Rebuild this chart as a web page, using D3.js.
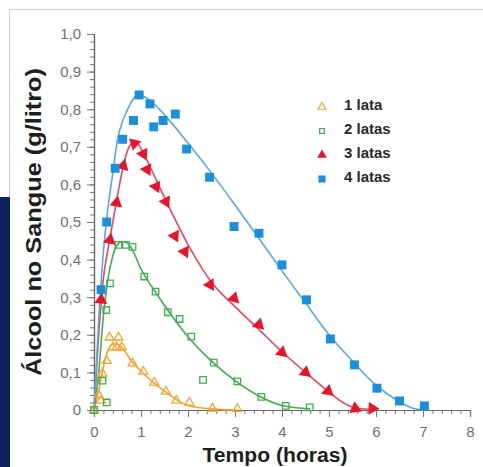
<!DOCTYPE html>
<html>
<head>
<meta charset="utf-8">
<script src="https://cdn.jsdelivr.net/npm/d3@7"></script>
<style>
  body { margin: 0; background: #fff; }
  text { font-family: "Liberation Sans", Arial, sans-serif; }
</style>
</head>
<body>
<script>
// data: points (t in hours, v in g/litro) and the fitted curves
var series = ['1 lata', '2 latas', '3 latas', '4 latas'];
var yTicks = [0, 0.1, 0.2, 0.3, 0.4, 0.5, 0.6, 0.7, 0.8, 0.9, 1.0];
var xTicks = [0, 1, 2, 3, 4, 5, 6, 7, 8];

var t1 = [0, 0.1, 0.15, 0.18, 0.27, 0.33, 0.40, 0.48, 0.52, 0.59, 0.82, 1.05, 1.28, 1.53, 1.75, 2.03, 2.52, 3.05];
var v1 = [0, 0.04, 0.025, 0.097, 0.131, 0.193, 0.167, 0.167, 0.193, 0.167, 0.124, 0.102, 0.073, 0.049, 0.025, 0.02, 0.004, 0.003];
var t2 = [0, 0.18, 0.27, 0.26, 0.34, 0.52, 0.68, 0.82, 1.07, 1.31, 1.57, 1.82, 2.07, 2.32, 2.55, 3.05, 3.56, 4.08, 4.59];
var v2 = [0, 0.078, 0.02, 0.266, 0.337, 0.439, 0.439, 0.434, 0.355, 0.315, 0.26, 0.242, 0.195, 0.08, 0.126, 0.076, 0.035, 0.011, 0.007];
var t3 = [0.15, 0.34, 0.48, 0.62, 0.86, 1.05, 1.13, 1.32, 1.53, 1.72, 1.93, 2.47, 2.98, 3.51, 4.0, 4.5, 4.98, 5.56, 5.92];
var v3 = [0.293, 0.452, 0.551, 0.649, 0.709, 0.681, 0.64, 0.594, 0.554, 0.463, 0.421, 0.333, 0.297, 0.227, 0.153, 0.1, 0.05, 0.004, 0.004];
var t4 = [0.15, 0.27, 0.45, 0.61, 0.84, 0.96, 1.19, 1.27, 1.47, 1.73, 1.97, 2.46, 2.98, 3.51, 4.0, 4.52, 5.03, 5.54, 6.02, 6.5, 7.03];
var v4 = [0.32, 0.50, 0.643, 0.72, 0.77, 0.838, 0.814, 0.753, 0.77, 0.787, 0.694, 0.619, 0.488, 0.47, 0.386, 0.293, 0.189, 0.12, 0.058, 0.024, 0.011];

var ct1 = [0, 0.1, 0.2, 0.3, 0.4, 0.5, 0.6, 0.8, 1.0, 1.25, 1.5, 1.75, 2.0, 2.5, 3.05];
var cv1 = [0, 0.05, 0.115, 0.16, 0.175, 0.175, 0.165, 0.13, 0.103, 0.075, 0.05, 0.028, 0.012, 0.003, 0];
var ct2 = [0, 0.1, 0.2, 0.3, 0.4, 0.5, 0.6, 0.7, 0.8, 1.0, 1.3, 1.6, 2.0, 2.5, 3.0, 3.5, 4.0, 4.6];
var cv2 = [0, 0.1, 0.25, 0.35, 0.41, 0.44, 0.448, 0.445, 0.43, 0.375, 0.315, 0.26, 0.195, 0.13, 0.078, 0.038, 0.012, 0.003];
var ct3 = [0, 0.1, 0.2, 0.3, 0.4, 0.5, 0.6, 0.7, 0.8, 0.9, 1.0, 1.2, 1.5, 2.0, 2.5, 3.0, 3.5, 4.0, 4.5, 5.0, 5.3, 5.6, 5.92];
var cv3 = [0, 0.2, 0.35, 0.43, 0.5, 0.57, 0.635, 0.685, 0.708, 0.712, 0.695, 0.645, 0.565, 0.44, 0.34, 0.275, 0.215, 0.155, 0.1, 0.048, 0.02, 0.004, 0.002];
var ct4 = [0, 0.1, 0.2, 0.3, 0.4, 0.5, 0.6, 0.7, 0.8, 0.9, 1.0, 1.2, 1.5, 2.0, 2.5, 3.0, 3.5, 4.0, 4.5, 5.0, 5.5, 6.0, 6.5, 6.8, 7.05];
var cv4 = [0, 0.24, 0.42, 0.54, 0.63, 0.72, 0.765, 0.795, 0.82, 0.835, 0.836, 0.822, 0.785, 0.71, 0.63, 0.545, 0.458, 0.37, 0.285, 0.2, 0.13, 0.066, 0.022, 0.004, 0];

var colors = ['#f5a431', '#3fae4f', '#e8132e', '#1b8fdc'];
var lineColors = ['#f5a431', '#3fae4f', '#e8475c', '#58a9e2'];

var width = 483, height = 467;
var x = d3.scaleLinear().domain([0, 8]).range([94, 470]);
var y = d3.scaleLinear().domain([0, 1]).range([410, 34]);

var svg = d3.select('body').append('svg').attr('width', width).attr('height', height);

// frame
svg.append('path').attr('d', 'M9.5,197V9.5H483').attr('fill', 'none').attr('stroke', '#cfcfcf');
svg.append('rect').attr('x', 0).attr('y', 197).attr('width', 10).attr('height', height - 197).attr('fill', '#0c2161');

// axes
var fmt = function(d) { return d === 0 ? '0' : d.toFixed(1).replace('.', ','); };
var yMinor = svg.append('g').attr('transform', 'translate(94,0)')
    .call(d3.axisLeft(y).tickValues(d3.range(0, 1.001, 0.02)).tickSize(4).tickFormat(''));
var yAxis = svg.append('g').attr('transform', 'translate(94,0)')
    .call(d3.axisLeft(y).tickValues(yTicks).tickSize(7).tickPadding(6).tickFormat(fmt));
var xMinor = svg.append('g').attr('transform', 'translate(0,410)')
    .call(d3.axisBottom(x).tickValues(d3.range(0, 8.001, 0.2)).tickSize(4).tickFormat(''));
var xAxis = svg.append('g').attr('transform', 'translate(0,410)')
    .call(d3.axisBottom(x).tickValues(xTicks).tickSize(7).tickPadding(9).tickFormat(d3.format('d')));

svg.selectAll('.domain').attr('stroke', '#666').attr('stroke-width', 1.2);
svg.selectAll('.tick line').attr('stroke', '#777');
svg.selectAll('.tick text').attr('fill', '#707070').style('font-size', '15px');

svg.append('text').attr('transform', 'translate(41,222) rotate(-90)')
    .attr('text-anchor', 'middle').attr('textLength', 308).attr('lengthAdjust', 'spacingAndGlyphs')
    .style('font-size', '22px').style('font-weight', 'bold').attr('fill', '#1e1e1e')
    .text('Álcool no Sangue (g/litro)');
svg.append('text').attr('x', 275).attr('y', 462)
    .attr('text-anchor', 'middle').attr('textLength', 145).attr('lengthAdjust', 'spacingAndGlyphs')
    .style('font-size', '20px').style('font-weight', 'bold').attr('fill', '#1e1e1e')
    .text('Tempo (horas)');

// fitted curves
var curves = [[ct1, cv1], [ct2, cv2], [ct3, cv3], [ct4, cv4]];
var line = d3.line().x(function(d) { return x(d[0]); }).y(function(d) { return y(d[1]); }).curve(d3.curveMonotoneX);
curves.forEach(function(c, i) {
    svg.append('path')
        .attr('d', line(d3.zip(c[0], c[1])))
        .attr('fill', 'none').attr('stroke', lineColors[i]).attr('stroke-width', 1.6);
});

// angle of the red curve at t, so the triangles point along it
function tangent(c, t) {
    var i = d3.bisectRight(c[0], t) - 1;
    i = Math.max(0, Math.min(c[0].length - 2, i));
    var dx = x(c[0][i + 1]) - x(c[0][i]), dy = y(c[1][i + 1]) - y(c[1][i]);
    return Math.atan2(dy, dx) * 180 / Math.PI + 90;
}

var points = [[t1, v1], [t2, v2], [t3, v3], [t4, v4]];
var sym = [
    d3.symbol().type(d3.symbolTriangle).size(34),
    d3.symbol().type(d3.symbolSquare).size(42),
    d3.symbol().type(d3.symbolTriangle).size(70),
    d3.symbol().type(d3.symbolSquare).size(80)
];
points.forEach(function(p, i) {
    var g = svg.append('g');
    g.selectAll('path').data(d3.zip(p[0], p[1])).enter().append('path')
        .attr('d', sym[i]())
        .attr('transform', function(d) {
            var r = i === 2 ? ' rotate(' + tangent(curves[2], d[0]) + ')' : '';
            return 'translate(' + x(d[0]) + ',' + y(d[1]) + ')' + r;
        })
        .attr('fill', i < 2 ? 'none' : colors[i])
        .attr('stroke', i < 2 ? colors[i] : 'none')
        .attr('stroke-width', 1.3);
});

// legend
var legSym = [
    d3.symbol().type(d3.symbolTriangle).size(26),
    d3.symbol().type(d3.symbolSquare).size(22),
    d3.symbol().type(d3.symbolTriangle).size(40),
    d3.symbol().type(d3.symbolSquare).size(50)
];
var leg = svg.append('g');
series.forEach(function(s, i) {
    var yy = 105 + i * 24;
    leg.append('path').attr('d', legSym[i]()).attr('transform', 'translate(322,' + (yy + 2) + ')')
        .attr('fill', i < 2 ? 'none' : colors[i])
        .attr('stroke', i < 2 ? colors[i] : 'none').attr('stroke-width', 1.2);
    leg.append('text').attr('x', 344).attr('y', yy).attr('dy', '0.35em')
        .style('font-size', '15px').style('font-weight', 'bold').attr('fill', '#2a2a2a')
        .text(s);
});
</script>
</body>
</html>
